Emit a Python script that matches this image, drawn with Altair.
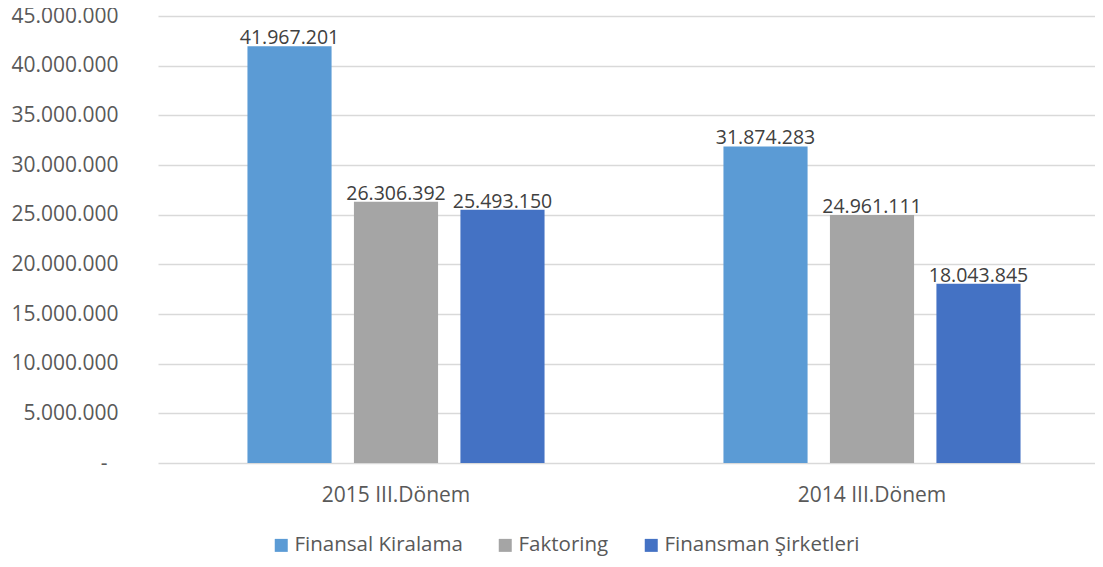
import altair as alt
import pandas as pd

periods = ["2015 III.Dönem", "2014 III.Dönem"]
series = ["Finansal Kiralama", "Faktoring", "Finansman Şirketleri"]
colors = ["#5B9BD5", "#A5A5A5", "#4472C4"]
values_2015 = [41967201, 26306392, 25493150]
values_2014 = [31874283, 24961111, 18043845]
y_ticks = [0, 5000000, 10000000, 15000000, 20000000, 25000000, 30000000, 35000000, 40000000, 45000000]

rows = []
for s, v in zip(series, values_2015):
    rows.append({"period": periods[0], "series": s, "value": v})
for s, v in zip(series, values_2014):
    rows.append({"period": periods[1], "series": s, "value": v})
df = pd.DataFrame(rows)

FONT = "Open Sans"
FS = 21

x = alt.X("period:N", sort=periods, title=None,
          scale=alt.Scale(paddingInner=0, paddingOuter=0, range=[0, 952]),
          axis=alt.Axis(labelAngle=0, labelFontSize=FS, labelColor="#595959", labelFont=FONT,
                        domain=False, ticks=False, labelPadding=21))
xo = alt.XOffset("series:N", sort=series,
                 scale=alt.Scale(paddingInner=0.21, paddingOuter=0.84))

base = alt.Chart(df).encode(x=x, xOffset=xo)

bars = base.mark_bar().encode(
    y=alt.Y("value:Q", title=None,
            scale=alt.Scale(domain=[0, 45000000], nice=False),
            axis=alt.Axis(values=y_ticks, labelFontSize=FS, labelColor="#595959", labelFont=FONT,
                          domain=False, ticks=False,
                          labelPadding={"condition": {"test": "datum.value == 0", "value": 51}, "value": 40},
                          gridColor="#D9D9D9", gridWidth=1.3,
                          labelExpr="datum.value == 0 ? '-' : replace(format(datum.value, ','), regexp(',', 'g'), '.')")),
    color=alt.Color("series:N", sort=series, title=None,
                    scale=alt.Scale(domain=series, range=colors),
                    legend=alt.Legend(orient="none", legendX=113, legendY=519, direction="horizontal",
                                      symbolType="square", symbolSize=169, symbolStrokeWidth=0,
                                      labelFontSize=20.5, labelColor="#595959", labelFont=FONT,
                                      columnPadding=32, labelOffset=3, labelLimit=400,
                                      padding=0, symbolOffset=0)),
)

labels = base.transform_calculate(
    label="replace(format(datum.value, ','), regexp(',', 'g'), '.')"
).mark_text(baseline="alphabetic", dy=-2, fontSize=19.5, color="#404040", font=FONT).encode(
    y=alt.Y("value:Q"),
    text="label:N",
)

chart = (bars + labels).properties(
    width=937, height=447,
    autosize=alt.AutoSizeParams(type="none"),
    padding={"left": 150, "top": 8, "right": 0, "bottom": 96},
).configure_view(stroke=None)

chart.save("out.html", embed_options={"renderer": "svg", "actions": False})
